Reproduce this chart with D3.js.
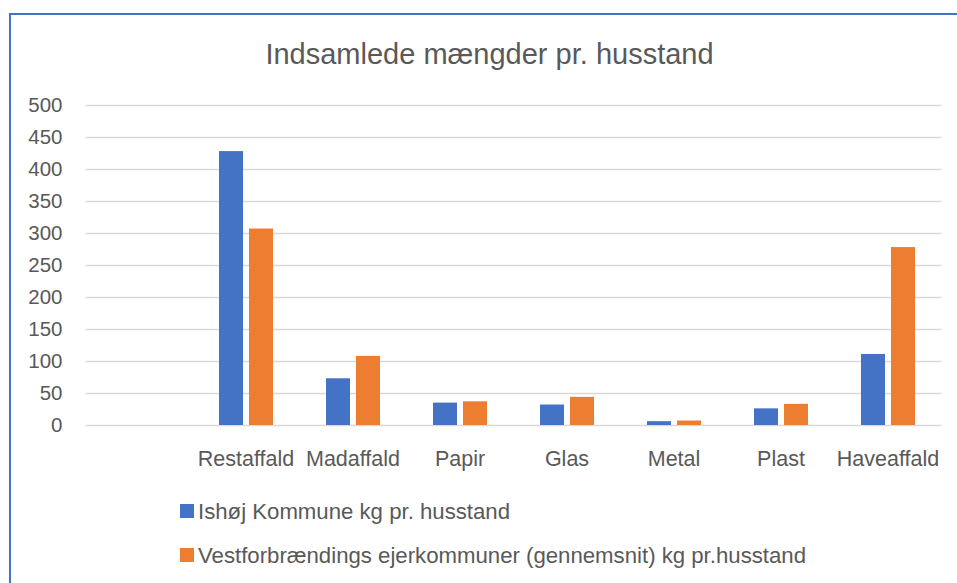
<!DOCTYPE html>
<html>
<head>
<meta charset="utf-8">
<script src="https://cdn.jsdelivr.net/npm/d3@7"></script>
<style>
  html, body { margin: 0; padding: 0; background: #fff; }
  svg { display: block; font-family: "Liberation Sans", Arial, sans-serif; }
</style>
</head>
<body>
<svg id="chart" width="957" height="583"></svg>
<script>
const title = "Indsamlede mængder pr. husstand";
const categories = ["", "Restaffald", "Madaffald", "Papir", "Glas", "Metal", "Plast", "Haveaffald"];
const ishojValues = [null, 428, 73, 35, 32, 6, 26, 111];
const vestValues = [null, 307, 108, 37, 44, 7, 33, 278];
const seriesNames = ["Ishøj Kommune kg pr. husstand", "Vestforbrændings ejerkommuner (gennemsnit) kg pr.husstand"];
const seriesColors = ["#4472C4", "#ED7D31"];
const yTicks = [0, 50, 100, 150, 200, 250, 300, 350, 400, 450, 500];

const svg = d3.select("#chart");
const textColor = "#595959";

// chart frame (top + left edges visible)
svg.append("path")
  .attr("d", "M10,583 L10,14 L957,14")
  .attr("fill", "none")
  .attr("stroke", "#4472C4")
  .attr("stroke-width", 2);

// title
svg.append("text")
  .attr("x", 489.5).attr("y", 64)
  .attr("text-anchor", "middle")
  .attr("font-size", 29)
  .attr("fill", textColor)
  .text(title);

const plotLeft = 85.5, plotRight = 941.5;
const x = d3.scaleBand().domain(categories).range([plotLeft, plotRight]).padding(0);
const bw = x.bandwidth();
const x1 = d3.scaleBand().domain([0, 1]).range([bw / 2 - 27, bw / 2 + 27]).paddingInner(0.2).paddingOuter(0);
const y = d3.scaleLinear().domain([0, 500]).range([425, 105]);

// y axis with gridlines
const yAxis = svg.append("g")
  .attr("transform", `translate(${plotRight},0)`)
  .call(d3.axisLeft(y).tickValues(yTicks).tickSize(plotRight - plotLeft).tickPadding(23));
yAxis.select(".domain").remove();
yAxis.selectAll(".tick line").attr("stroke", "#d9d9d9").attr("stroke-width", 1.5);
yAxis.selectAll(".tick text")
  .attr("fill", textColor)
  .attr("font-size", 20.5)
  .attr("font-family", "Liberation Sans, Arial, sans-serif");

// bars
const series = [ishojValues, vestValues];
series.forEach((vals, si) => {
  svg.append("g")
    .selectAll("rect")
    .data(categories.map((c, i) => ({ c, v: vals[i] })).filter(d => d.v != null))
    .join("rect")
    .attr("x", d => x(d.c) + x1(si))
    .attr("width", x1.bandwidth())
    .attr("y", d => y(d.v))
    .attr("height", d => y(0) - y(d.v))
    .attr("fill", seriesColors[si]);
});

// x axis labels
const xAxis = svg.append("g")
  .attr("transform", `translate(0,${y(0)})`)
  .call(d3.axisBottom(x).tickSize(0).tickPadding(26));
xAxis.select(".domain").remove();
xAxis.selectAll(".tick text")
  .attr("fill", textColor)
  .attr("font-size", 21.5)
  .attr("font-family", "Liberation Sans, Arial, sans-serif");

// legend
const legendY = [511, 555];
seriesNames.forEach((name, i) => {
  const g = svg.append("g").attr("transform", `translate(180,${legendY[i]})`);
  g.append("rect").attr("x", 0).attr("y", -7).attr("width", 14).attr("height", 14).attr("fill", seriesColors[i]);
  g.append("text").attr("x", 18).attr("y", 0).attr("dy", "0.35em")
    .attr("font-size", 22.2).attr("fill", textColor).text(name);
});
</script>
</body>
</html>
